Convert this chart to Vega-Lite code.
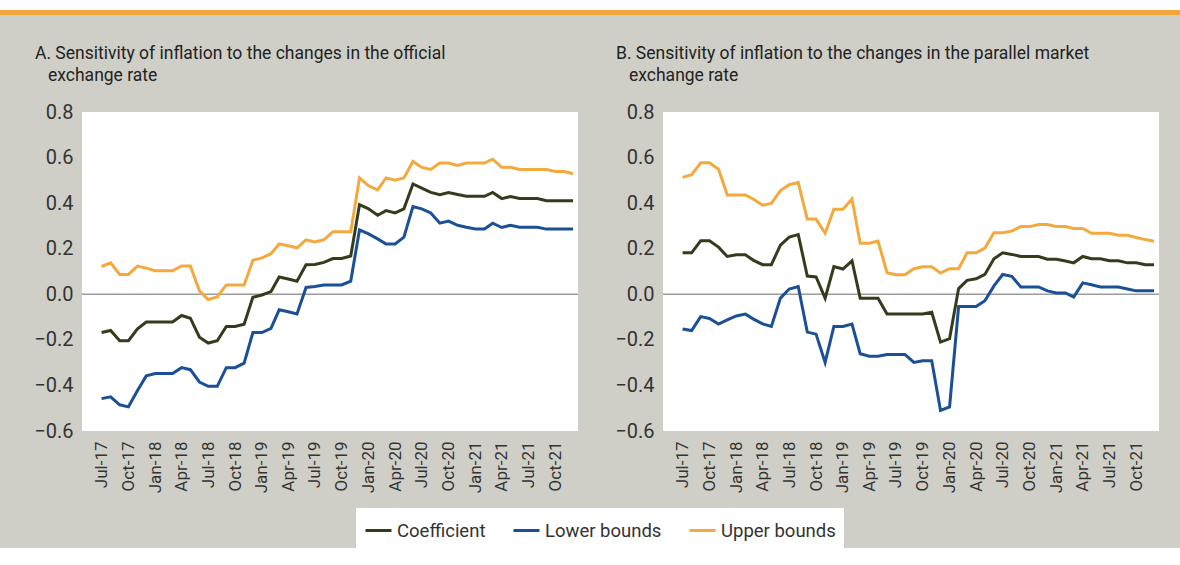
{
  "$schema": "https://vega.github.io/schema/vega-lite/v6.json",
  "background": "#cfcfc7",
  "padding": 0,
  "spacing": 0,
  "config": {
    "font": "Roboto, sans-serif",
    "view": {"stroke": null},
    "axis": {"labelColor": "#333333", "ticks": false, "domain": false, "grid": false, "title": null, "labelFont": "Roboto, sans-serif"},
    "title": {"font": "Roboto, sans-serif", "fontSize": 17.5, "fontWeight": "normal", "color": "#222222", "anchor": "start", "frame": "bounds", "lineHeight": 22, "offset": 18},
    "legend": {"labelFont": "Roboto, sans-serif"}
  },
  "datasets": {
    "official": [
      {"date": "2017-07-01", "Coefficient": -0.168, "Lower bounds": -0.458, "Upper bounds": 0.122},
      {"date": "2017-08-01", "Coefficient": -0.159, "Lower bounds": -0.450, "Upper bounds": 0.138},
      {"date": "2017-09-01", "Coefficient": -0.204, "Lower bounds": -0.485, "Upper bounds": 0.087},
      {"date": "2017-10-01", "Coefficient": -0.204, "Lower bounds": -0.494, "Upper bounds": 0.087},
      {"date": "2017-11-01", "Coefficient": -0.152, "Lower bounds": -0.422, "Upper bounds": 0.124},
      {"date": "2017-12-01", "Coefficient": -0.122, "Lower bounds": -0.358, "Upper bounds": 0.115},
      {"date": "2018-01-01", "Coefficient": -0.122, "Lower bounds": -0.348, "Upper bounds": 0.103},
      {"date": "2018-02-01", "Coefficient": -0.122, "Lower bounds": -0.348, "Upper bounds": 0.103},
      {"date": "2018-03-01", "Coefficient": -0.122, "Lower bounds": -0.348, "Upper bounds": 0.103},
      {"date": "2018-04-01", "Coefficient": -0.093, "Lower bounds": -0.322, "Upper bounds": 0.124},
      {"date": "2018-05-01", "Coefficient": -0.105, "Lower bounds": -0.331, "Upper bounds": 0.124},
      {"date": "2018-06-01", "Coefficient": -0.188, "Lower bounds": -0.385, "Upper bounds": 0.015},
      {"date": "2018-07-01", "Coefficient": -0.214, "Lower bounds": -0.404, "Upper bounds": -0.023},
      {"date": "2018-08-01", "Coefficient": -0.204, "Lower bounds": -0.404, "Upper bounds": -0.012},
      {"date": "2018-09-01", "Coefficient": -0.141, "Lower bounds": -0.322, "Upper bounds": 0.041},
      {"date": "2018-10-01", "Coefficient": -0.141, "Lower bounds": -0.322, "Upper bounds": 0.041},
      {"date": "2018-11-01", "Coefficient": -0.131, "Lower bounds": -0.302, "Upper bounds": 0.041},
      {"date": "2018-12-01", "Coefficient": -0.013, "Lower bounds": -0.168, "Upper bounds": 0.149},
      {"date": "2019-01-01", "Coefficient": -0.003, "Lower bounds": -0.168, "Upper bounds": 0.160},
      {"date": "2019-02-01", "Coefficient": 0.012, "Lower bounds": -0.150, "Upper bounds": 0.178},
      {"date": "2019-03-01", "Coefficient": 0.076, "Lower bounds": -0.068, "Upper bounds": 0.221},
      {"date": "2019-04-01", "Coefficient": 0.067, "Lower bounds": -0.077, "Upper bounds": 0.213},
      {"date": "2019-05-01", "Coefficient": 0.057, "Lower bounds": -0.086, "Upper bounds": 0.204},
      {"date": "2019-06-01", "Coefficient": 0.130, "Lower bounds": 0.030, "Upper bounds": 0.239},
      {"date": "2019-07-01", "Coefficient": 0.131, "Lower bounds": 0.034, "Upper bounds": 0.230},
      {"date": "2019-08-01", "Coefficient": 0.140, "Lower bounds": 0.041, "Upper bounds": 0.239},
      {"date": "2019-09-01", "Coefficient": 0.157, "Lower bounds": 0.041, "Upper bounds": 0.275},
      {"date": "2019-10-01", "Coefficient": 0.157, "Lower bounds": 0.041, "Upper bounds": 0.275},
      {"date": "2019-11-01", "Coefficient": 0.168, "Lower bounds": 0.058, "Upper bounds": 0.275},
      {"date": "2019-12-01", "Coefficient": 0.393, "Lower bounds": 0.283, "Upper bounds": 0.511},
      {"date": "2020-01-01", "Coefficient": 0.375, "Lower bounds": 0.265, "Upper bounds": 0.476},
      {"date": "2020-02-01", "Coefficient": 0.347, "Lower bounds": 0.243, "Upper bounds": 0.458},
      {"date": "2020-03-01", "Coefficient": 0.367, "Lower bounds": 0.221, "Upper bounds": 0.511},
      {"date": "2020-04-01", "Coefficient": 0.357, "Lower bounds": 0.221, "Upper bounds": 0.501},
      {"date": "2020-05-01", "Coefficient": 0.375, "Lower bounds": 0.251, "Upper bounds": 0.511},
      {"date": "2020-06-01", "Coefficient": 0.484, "Lower bounds": 0.385, "Upper bounds": 0.583},
      {"date": "2020-07-01", "Coefficient": 0.466, "Lower bounds": 0.375, "Upper bounds": 0.557},
      {"date": "2020-08-01", "Coefficient": 0.447, "Lower bounds": 0.357, "Upper bounds": 0.548},
      {"date": "2020-09-01", "Coefficient": 0.437, "Lower bounds": 0.312, "Upper bounds": 0.576},
      {"date": "2020-10-01", "Coefficient": 0.447, "Lower bounds": 0.321, "Upper bounds": 0.576},
      {"date": "2020-11-01", "Coefficient": 0.438, "Lower bounds": 0.303, "Upper bounds": 0.565},
      {"date": "2020-12-01", "Coefficient": 0.430, "Lower bounds": 0.294, "Upper bounds": 0.576},
      {"date": "2021-01-01", "Coefficient": 0.430, "Lower bounds": 0.287, "Upper bounds": 0.576},
      {"date": "2021-02-01", "Coefficient": 0.430, "Lower bounds": 0.287, "Upper bounds": 0.576},
      {"date": "2021-03-01", "Coefficient": 0.447, "Lower bounds": 0.312, "Upper bounds": 0.593},
      {"date": "2021-04-01", "Coefficient": 0.420, "Lower bounds": 0.293, "Upper bounds": 0.557},
      {"date": "2021-05-01", "Coefficient": 0.429, "Lower bounds": 0.303, "Upper bounds": 0.557},
      {"date": "2021-06-01", "Coefficient": 0.420, "Lower bounds": 0.294, "Upper bounds": 0.548},
      {"date": "2021-07-01", "Coefficient": 0.420, "Lower bounds": 0.294, "Upper bounds": 0.548},
      {"date": "2021-08-01", "Coefficient": 0.420, "Lower bounds": 0.294, "Upper bounds": 0.548},
      {"date": "2021-09-01", "Coefficient": 0.411, "Lower bounds": 0.286, "Upper bounds": 0.548},
      {"date": "2021-10-01", "Coefficient": 0.411, "Lower bounds": 0.286, "Upper bounds": 0.539},
      {"date": "2021-11-01", "Coefficient": 0.411, "Lower bounds": 0.286, "Upper bounds": 0.539},
      {"date": "2021-12-01", "Coefficient": 0.411, "Lower bounds": 0.286, "Upper bounds": 0.529}
    ],
    "parallel": [
      {"date": "2017-07-01", "Coefficient": 0.182, "Lower bounds": -0.152, "Upper bounds": 0.513},
      {"date": "2017-08-01", "Coefficient": 0.182, "Lower bounds": -0.159, "Upper bounds": 0.525},
      {"date": "2017-09-01", "Coefficient": 0.235, "Lower bounds": -0.098, "Upper bounds": 0.577},
      {"date": "2017-10-01", "Coefficient": 0.235, "Lower bounds": -0.106, "Upper bounds": 0.577},
      {"date": "2017-11-01", "Coefficient": 0.207, "Lower bounds": -0.131, "Upper bounds": 0.549},
      {"date": "2017-12-01", "Coefficient": 0.166, "Lower bounds": -0.112, "Upper bounds": 0.436},
      {"date": "2018-01-01", "Coefficient": 0.173, "Lower bounds": -0.095, "Upper bounds": 0.436},
      {"date": "2018-02-01", "Coefficient": 0.173, "Lower bounds": -0.087, "Upper bounds": 0.436},
      {"date": "2018-03-01", "Coefficient": 0.149, "Lower bounds": -0.109, "Upper bounds": 0.417},
      {"date": "2018-04-01", "Coefficient": 0.130, "Lower bounds": -0.130, "Upper bounds": 0.391},
      {"date": "2018-05-01", "Coefficient": 0.130, "Lower bounds": -0.141, "Upper bounds": 0.399},
      {"date": "2018-06-01", "Coefficient": 0.216, "Lower bounds": -0.017, "Upper bounds": 0.455},
      {"date": "2018-07-01", "Coefficient": 0.251, "Lower bounds": 0.023, "Upper bounds": 0.481},
      {"date": "2018-08-01", "Coefficient": 0.262, "Lower bounds": 0.034, "Upper bounds": 0.490},
      {"date": "2018-09-01", "Coefficient": 0.080, "Lower bounds": -0.166, "Upper bounds": 0.330},
      {"date": "2018-10-01", "Coefficient": 0.076, "Lower bounds": -0.175, "Upper bounds": 0.330},
      {"date": "2018-11-01", "Coefficient": -0.017, "Lower bounds": -0.299, "Upper bounds": 0.268},
      {"date": "2018-12-01", "Coefficient": 0.122, "Lower bounds": -0.141, "Upper bounds": 0.373},
      {"date": "2019-01-01", "Coefficient": 0.111, "Lower bounds": -0.141, "Upper bounds": 0.373},
      {"date": "2019-02-01", "Coefficient": 0.147, "Lower bounds": -0.131, "Upper bounds": 0.418},
      {"date": "2019-03-01", "Coefficient": -0.017, "Lower bounds": -0.261, "Upper bounds": 0.224},
      {"date": "2019-04-01", "Coefficient": -0.017, "Lower bounds": -0.272, "Upper bounds": 0.224},
      {"date": "2019-05-01", "Coefficient": -0.017, "Lower bounds": -0.272, "Upper bounds": 0.234},
      {"date": "2019-06-01", "Coefficient": -0.086, "Lower bounds": -0.264, "Upper bounds": 0.095},
      {"date": "2019-07-01", "Coefficient": -0.086, "Lower bounds": -0.264, "Upper bounds": 0.086},
      {"date": "2019-08-01", "Coefficient": -0.086, "Lower bounds": -0.264, "Upper bounds": 0.086},
      {"date": "2019-09-01", "Coefficient": -0.086, "Lower bounds": -0.299, "Upper bounds": 0.112},
      {"date": "2019-10-01", "Coefficient": -0.086, "Lower bounds": -0.292, "Upper bounds": 0.121},
      {"date": "2019-11-01", "Coefficient": -0.079, "Lower bounds": -0.292, "Upper bounds": 0.121},
      {"date": "2019-12-01", "Coefficient": -0.210, "Lower bounds": -0.510, "Upper bounds": 0.093},
      {"date": "2020-01-01", "Coefficient": -0.195, "Lower bounds": -0.494, "Upper bounds": 0.112},
      {"date": "2020-02-01", "Coefficient": 0.025, "Lower bounds": -0.054, "Upper bounds": 0.112},
      {"date": "2020-03-01", "Coefficient": 0.061, "Lower bounds": -0.054, "Upper bounds": 0.182},
      {"date": "2020-04-01", "Coefficient": 0.068, "Lower bounds": -0.054, "Upper bounds": 0.182},
      {"date": "2020-05-01", "Coefficient": 0.087, "Lower bounds": -0.028, "Upper bounds": 0.203},
      {"date": "2020-06-01", "Coefficient": 0.156, "Lower bounds": 0.037, "Upper bounds": 0.270},
      {"date": "2020-07-01", "Coefficient": 0.182, "Lower bounds": 0.087, "Upper bounds": 0.270},
      {"date": "2020-08-01", "Coefficient": 0.175, "Lower bounds": 0.079, "Upper bounds": 0.277},
      {"date": "2020-09-01", "Coefficient": 0.166, "Lower bounds": 0.032, "Upper bounds": 0.297},
      {"date": "2020-10-01", "Coefficient": 0.166, "Lower bounds": 0.032, "Upper bounds": 0.297},
      {"date": "2020-11-01", "Coefficient": 0.166, "Lower bounds": 0.032, "Upper bounds": 0.306},
      {"date": "2020-12-01", "Coefficient": 0.154, "Lower bounds": 0.015, "Upper bounds": 0.306},
      {"date": "2021-01-01", "Coefficient": 0.154, "Lower bounds": 0.006, "Upper bounds": 0.297},
      {"date": "2021-02-01", "Coefficient": 0.146, "Lower bounds": 0.006, "Upper bounds": 0.297},
      {"date": "2021-03-01", "Coefficient": 0.138, "Lower bounds": -0.012, "Upper bounds": 0.289},
      {"date": "2021-04-01", "Coefficient": 0.166, "Lower bounds": 0.050, "Upper bounds": 0.289},
      {"date": "2021-05-01", "Coefficient": 0.156, "Lower bounds": 0.042, "Upper bounds": 0.268},
      {"date": "2021-06-01", "Coefficient": 0.156, "Lower bounds": 0.032, "Upper bounds": 0.268},
      {"date": "2021-07-01", "Coefficient": 0.147, "Lower bounds": 0.032, "Upper bounds": 0.268},
      {"date": "2021-08-01", "Coefficient": 0.147, "Lower bounds": 0.032, "Upper bounds": 0.259},
      {"date": "2021-09-01", "Coefficient": 0.138, "Lower bounds": 0.023, "Upper bounds": 0.259},
      {"date": "2021-10-01", "Coefficient": 0.138, "Lower bounds": 0.015, "Upper bounds": 0.249},
      {"date": "2021-11-01", "Coefficient": 0.130, "Lower bounds": 0.015, "Upper bounds": 0.240},
      {"date": "2021-12-01", "Coefficient": 0.130, "Lower bounds": 0.015, "Upper bounds": 0.233}
    ]
  },
  "resolve": {"scale": {"color": "shared"}, "legend": {"color": "shared"}},
  "vconcat": [
    {"width": 1180, "height": 10, "view": {"fill": "#ffffff", "stroke": null}, "data": {"values": []}, "mark": "point", "encoding": {}},
    {"width": 1180, "height": 5, "view": {"fill": "#f2a63b", "stroke": null}, "data": {"values": []}, "mark": "point", "encoding": {}},
    {"width": 1180, "height": 29, "data": {"values": []}, "mark": "point", "encoding": {}},
    {
      "spacing": 0,
      "resolve": {"scale": {"color": "shared"}, "legend": {"color": "shared"}},
      "hconcat": [
        {"width": 1, "height": 10, "data": {"values": []}, "mark": "point", "encoding": {}},
        {
          "title": {"text": ["A. Sensitivity of inflation to the changes in the official", "\u200b\u00a0\u00a0\u00a0exchange rate"], "dx": 34},
          "width": 496, "height": 319,
          "view": {"fill": "#ffffff", "stroke": null},
          "layer": [
            {"data": {"values": [{}]}, "mark": {"type": "rule", "color": "#9b9b9b", "strokeWidth": 1.5}, "encoding": {"y": {"datum": 0, "type": "quantitative"}}},
            {
              "data": {"name": "official"},
              "transform": [{"fold": ["Coefficient", "Lower bounds", "Upper bounds"], "as": ["series", "value"]}],
              "mark": {"type": "line", "strokeWidth": 3},
              "encoding": {
                "x": {"field": "date", "type": "temporal",
                  "scale": {"type": "utc", "nice": false, "domain": [{"year": 2017, "month": 4, "date": 25, "utc": true}, {"year": 2021, "month": 12, "date": 18, "utc": true}]},
                  "axis": {"format": "%b-%y", "labelAngle": -90, "labelPadding": 10, "labelFontSize": 17, "labelColor": "#333333",
                    "values": [{"year": 2017, "month": 7, "date": 1, "utc": true}, {"year": 2017, "month": 10, "date": 1, "utc": true}, {"year": 2018, "month": 1, "date": 1, "utc": true}, {"year": 2018, "month": 4, "date": 1, "utc": true}, {"year": 2018, "month": 7, "date": 1, "utc": true}, {"year": 2018, "month": 10, "date": 1, "utc": true}, {"year": 2019, "month": 1, "date": 1, "utc": true}, {"year": 2019, "month": 4, "date": 1, "utc": true}, {"year": 2019, "month": 7, "date": 1, "utc": true}, {"year": 2019, "month": 10, "date": 1, "utc": true}, {"year": 2020, "month": 1, "date": 1, "utc": true}, {"year": 2020, "month": 4, "date": 1, "utc": true}, {"year": 2020, "month": 7, "date": 1, "utc": true}, {"year": 2020, "month": 10, "date": 1, "utc": true}, {"year": 2021, "month": 1, "date": 1, "utc": true}, {"year": 2021, "month": 4, "date": 1, "utc": true}, {"year": 2021, "month": 7, "date": 1, "utc": true}, {"year": 2021, "month": 10, "date": 1, "utc": true}]}},
                "y": {"field": "value", "type": "quantitative", "scale": {"domain": [-0.6, 0.8], "nice": false, "zero": false},
                  "axis": {"values": [-0.6, -0.4, -0.2, 0, 0.2, 0.4, 0.6, 0.8], "format": ".1f", "labelFontSize": 20, "labelPadding": 9, "minExtent": 81}},
                "color": {"field": "series", "type": "nominal",
                  "scale": {"domain": ["Coefficient", "Lower bounds", "Upper bounds"], "range": ["#333d1c", "#1b4f96", "#f4a93c"]},
                  "legend": {"title": null, "orient": "none", "legendX": 356, "legendY": 508, "direction": "horizontal", "fillColor": "#ffffff", "padding": 8, "symbolType": "stroke", "symbolSize": 676, "symbolStrokeWidth": 3, "labelFontSize": 18.5, "labelColor": "#333333", "columnPadding": 21, "labelOffset": 4}}
              }
            }
          ]
        },
        {
          "title": {"text": ["B. Sensitivity of inflation to the changes in the parallel market", "\u200b\u00a0\u00a0\u00a0exchange rate"], "dx": 36},
          "width": 496, "height": 319,
          "view": {"fill": "#ffffff", "stroke": null},
          "layer": [
            {"data": {"values": [{}]}, "mark": {"type": "rule", "color": "#9b9b9b", "strokeWidth": 1.5}, "encoding": {"y": {"datum": 0, "type": "quantitative"}}},
            {
              "data": {"name": "parallel"},
              "transform": [{"fold": ["Coefficient", "Lower bounds", "Upper bounds"], "as": ["series", "value"]}],
              "mark": {"type": "line", "strokeWidth": 3},
              "encoding": {
                "x": {"field": "date", "type": "temporal",
                  "scale": {"type": "utc", "nice": false, "domain": [{"year": 2017, "month": 4, "date": 25, "utc": true}, {"year": 2021, "month": 12, "date": 18, "utc": true}]},
                  "axis": {"format": "%b-%y", "labelAngle": -90, "labelPadding": 10, "labelFontSize": 17, "labelColor": "#333333",
                    "values": [{"year": 2017, "month": 7, "date": 1, "utc": true}, {"year": 2017, "month": 10, "date": 1, "utc": true}, {"year": 2018, "month": 1, "date": 1, "utc": true}, {"year": 2018, "month": 4, "date": 1, "utc": true}, {"year": 2018, "month": 7, "date": 1, "utc": true}, {"year": 2018, "month": 10, "date": 1, "utc": true}, {"year": 2019, "month": 1, "date": 1, "utc": true}, {"year": 2019, "month": 4, "date": 1, "utc": true}, {"year": 2019, "month": 7, "date": 1, "utc": true}, {"year": 2019, "month": 10, "date": 1, "utc": true}, {"year": 2020, "month": 1, "date": 1, "utc": true}, {"year": 2020, "month": 4, "date": 1, "utc": true}, {"year": 2020, "month": 7, "date": 1, "utc": true}, {"year": 2020, "month": 10, "date": 1, "utc": true}, {"year": 2021, "month": 1, "date": 1, "utc": true}, {"year": 2021, "month": 4, "date": 1, "utc": true}, {"year": 2021, "month": 7, "date": 1, "utc": true}, {"year": 2021, "month": 10, "date": 1, "utc": true}]}},
                "y": {"field": "value", "type": "quantitative", "scale": {"domain": [-0.6, 0.8], "nice": false, "zero": false},
                  "axis": {"values": [-0.6, -0.4, -0.2, 0, 0.2, 0.4, 0.6, 0.8], "format": ".1f", "labelFontSize": 20, "labelPadding": 9, "minExtent": 83}},
                "color": {"field": "series", "type": "nominal",
                  "scale": {"domain": ["Coefficient", "Lower bounds", "Upper bounds"], "range": ["#333d1c", "#1b4f96", "#f4a93c"]}}
              }
            }
          ]
        }
      ]
    }
  ]
}
